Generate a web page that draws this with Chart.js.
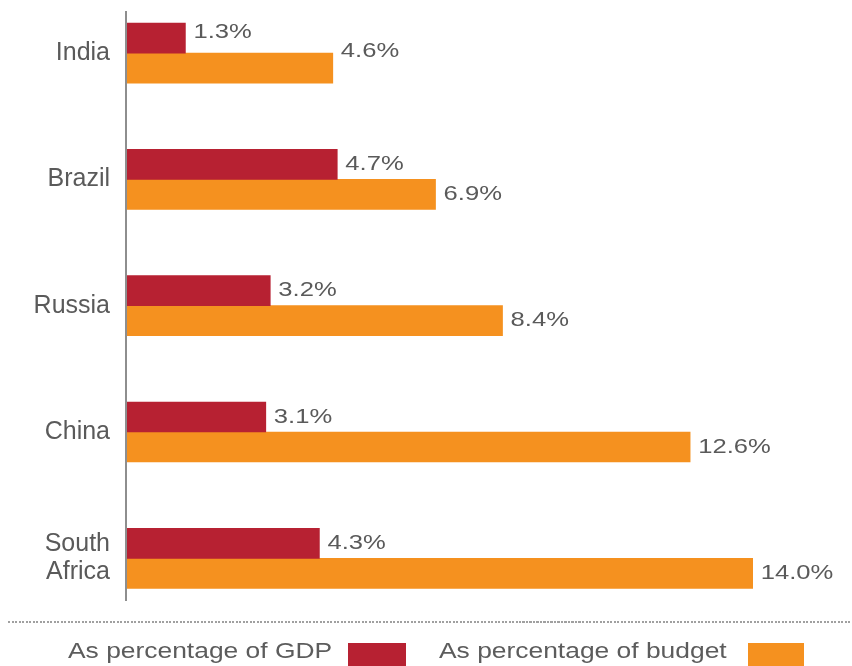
<!DOCTYPE html>
<html>
<head>
<meta charset="utf-8">
<title>BRICS spending</title>
<script src="https://cdn.jsdelivr.net/npm/chart.js@4/dist/chart.umd.min.js"></script>
<style>
  body { margin: 0; background: #fff; }
  #wrap { position: relative; width: 852px; height: 666px; overflow: hidden; }
  #chart { position: absolute; left: 0; top: 0; }
  .rule {
    position: absolute; left: 8px; right: 0; top: 621px; height: 2px;
    background: repeating-linear-gradient(to right, #a0a0a0 0 2px, transparent 2px 3.5px);
  }
  .legend-text {
    position: absolute; top: 640px; font: 22px/22px "Liberation Sans", Arial, Helvetica, sans-serif;
    color: #5c5c5c; white-space: nowrap;
    transform: scaleX(1.2); transform-origin: left center;
  }
  .legend-box { position: absolute; top: 643px; height: 30px; }
</style>
</head>
<body>
<div id="wrap">
  <canvas id="chart" width="852" height="666"></canvas>
  <div class="rule"></div>
  <span class="legend-text" id="lg0" style="left:68px"></span>
  <div class="legend-box" id="lb0" style="left:348px; width:58px"></div>
  <span class="legend-text" id="lg1" style="left:439px"></span>
  <div class="legend-box" id="lb1" style="left:748px; width:56px"></div>
</div>
<script>
// Countries and spending shares (%)
const countries = ['India', 'Brazil', 'Russia', 'China', ['South', 'Africa']];
const gdpShare = [1.3, 4.7, 3.2, 3.1, 4.3];
const budgetShare = [4.6, 6.9, 8.4, 12.6, 14.0];
const seriesNames = ['As percentage of GDP', 'As percentage of budget'];

const RED = '#b72132';
const ORANGE = '#f5911f';
const TEXT = '#5a5a5a';
const FONT = '"Liberation Sans", Arial, Helvetica, sans-serif';

// India's two labels sit a little higher than the rest
const labelNudge = { 0: [-6, -17] };

// Value labels just past the end of each bar, drawn slightly widened
const valueLabels = {
  id: 'valueLabels',
  afterDatasetsDraw(chart) {
    const ctx = chart.ctx;
    chart.data.datasets.forEach((ds, di) => {
      chart.getDatasetMeta(di).data.forEach((bar, i) => {
        const nudge = labelNudge[i] ? labelNudge[i][di] : 0;
        ctx.save();
        ctx.translate(bar.x + 8, bar.y + nudge);
        ctx.scale(1.22, 1);
        ctx.font = '21px ' + FONT;
        ctx.fillStyle = TEXT;
        ctx.textAlign = 'left';
        ctx.textBaseline = 'middle';
        ctx.fillText(ds.data[i].x.toFixed(1) + '%', 0, 0);
        ctx.restore();
      });
    });
  }
};

const toPoints = vals => vals.map((v, i) => ({ x: v, y: i }));

document.getElementById('lg0').textContent = seriesNames[0];
document.getElementById('lg1').textContent = seriesNames[1];
document.getElementById('lb0').style.background = RED;
document.getElementById('lb1').style.background = ORANGE;

new Chart(document.getElementById('chart'), {
  type: 'bar',
  data: {
    datasets: [
      { label: seriesNames[0], data: toPoints(gdpShare), backgroundColor: RED, barThickness: 30 },
      { label: seriesNames[1], data: toPoints(budgetShare), backgroundColor: ORANGE, barThickness: 30 }
    ]
  },
  options: {
    indexAxis: 'y',
    responsive: false,
    animation: false,
    layout: { padding: { top: 12, bottom: 66, right: 10, left: 0 } },
    plugins: {
      legend: { display: false },
      tooltip: { enabled: false }
    },
    scales: {
      x: {
        type: 'linear',
        min: -0.03,
        max: 16,
        display: false
      },
      y: {
        type: 'linear',
        reverse: true,
        offset: false,
        min: -0.325,
        max: 4.33,
        grid: { display: false, drawTicks: false, offset: false },
        border: { display: true, color: '#8e8e8e', width: 2 },
        afterBuildTicks: scale => {
          scale.ticks = countries.map((_, i) => ({ value: i }));
        },
        afterFit: scale => {
          // fixed gutter for the country names; no extra room above/below
          scale.width = 126;
          scale.paddingTop = 0;
          scale.paddingBottom = 0;
        },
        ticks: {
          padding: 16,
          color: TEXT,
          font: { family: FONT, size: 25, lineHeight: 1.12 },
          callback: value => countries[value]
        }
      }
    }
  },
  plugins: [valueLabels]
});
</script>
</body>
</html>
